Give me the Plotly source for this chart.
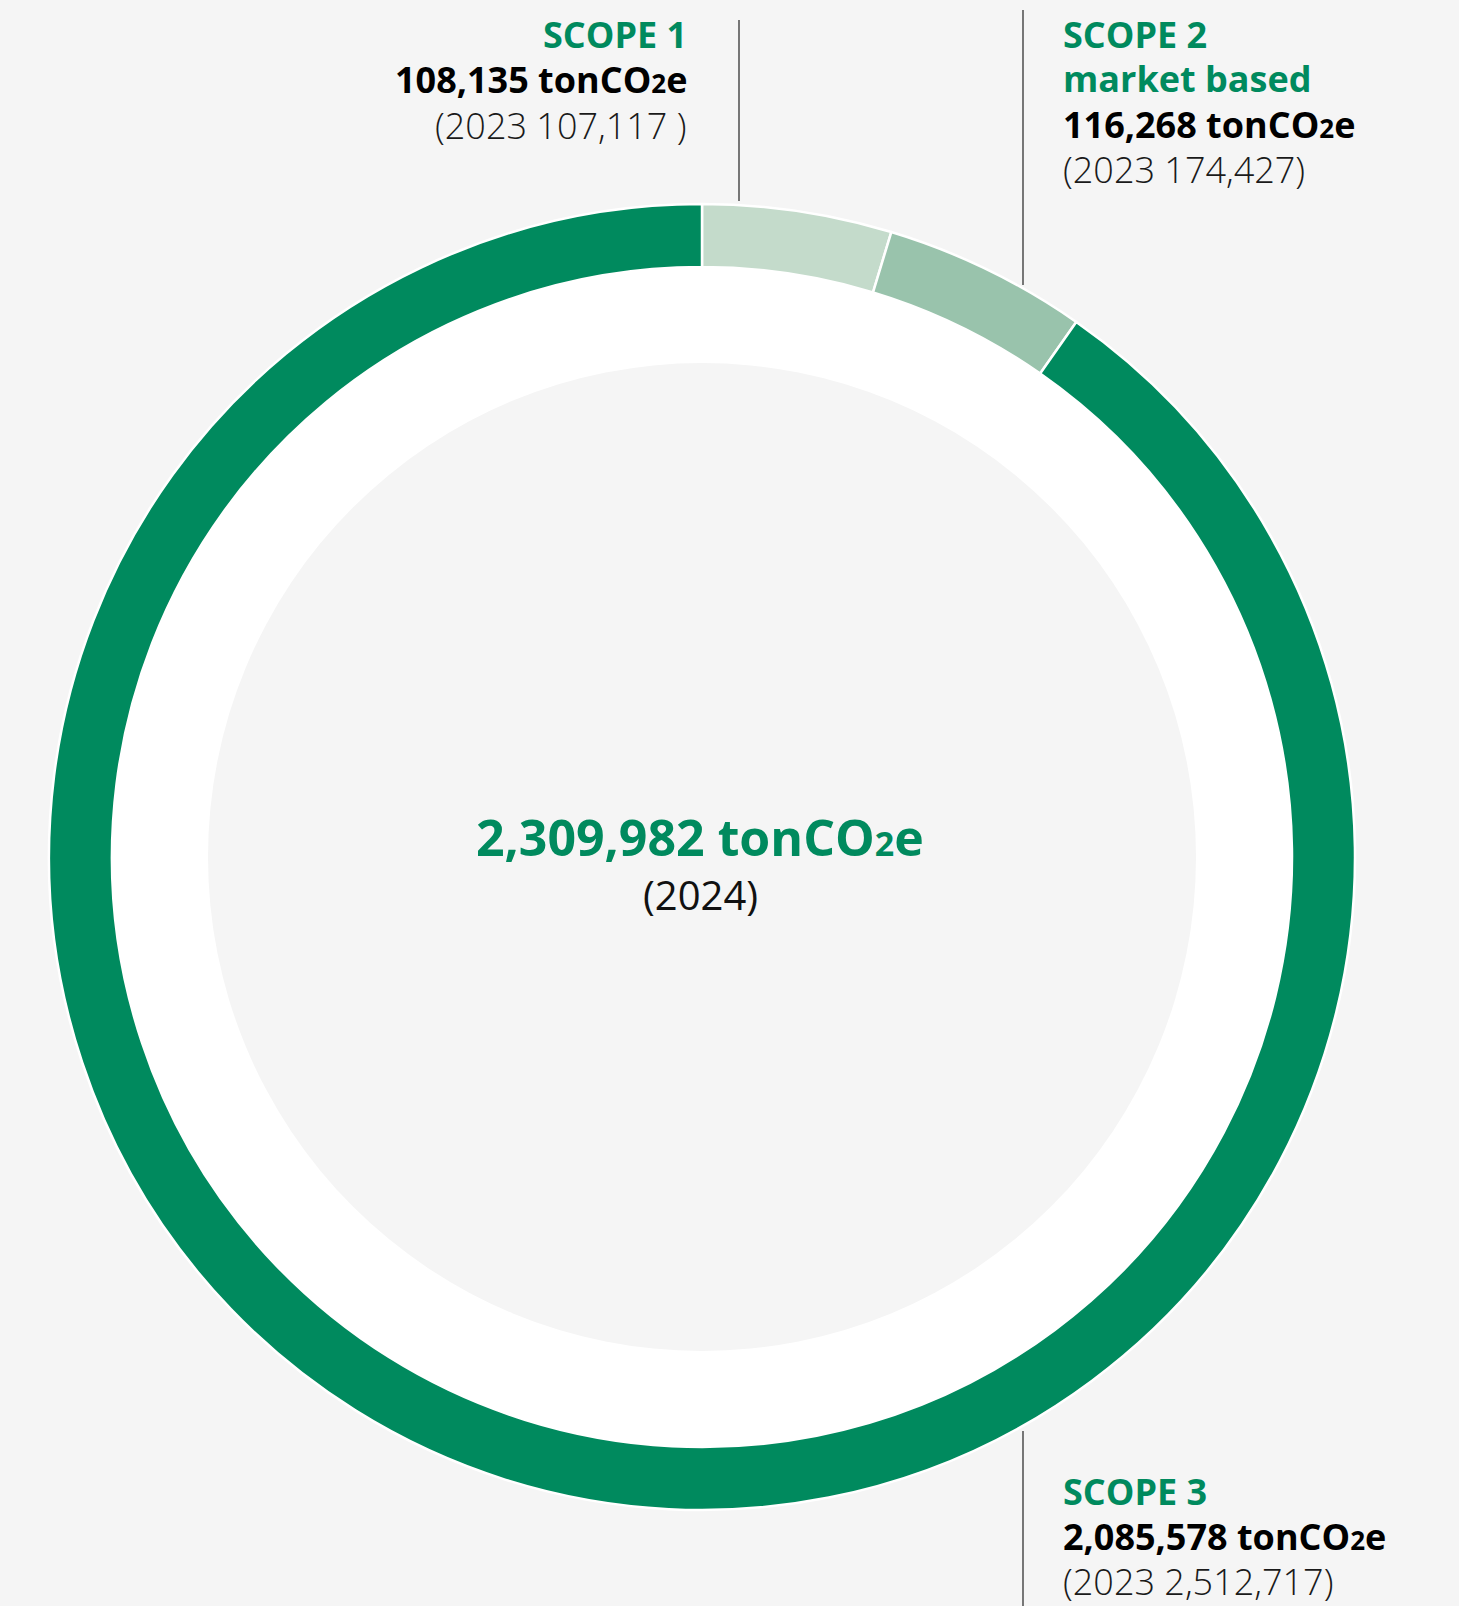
import plotly.graph_objects as go

# ---- data ----
categories = ["SCOPE 1", "SCOPE 2", "SCOPE 3"]
subtitles = ["", "market based", ""]
values_2024 = [108135, 116268, 2085578]
values_2023 = [107117, 174427, 2512717]
total_2024 = 2309982
year_current = 2024
year_prior = 2023
colors = ["#c4dbcb", "#99c3ac", "#008a5e"]

W, H = 1459, 1606
CX, CY = 702, 857          # ring centre in px (from top-left)
R_OUT, R_WHITE, R_GRAY = 653, 590, 494
GREEN = "#008a5e"
FONT = "Open Sans"

def px_x(x):
    return x / W

def px_y(y):
    return 1 - y / H

fig = go.Figure()
fig.add_trace(go.Pie(
    labels=categories,
    values=values_2024,
    sort=False,
    direction="clockwise",
    rotation=0,
    hole=R_WHITE / R_OUT,
    marker=dict(colors=colors, line=dict(color="white", width=2.5)),
    textinfo="none",
    hoverinfo="label+value",
    showlegend=False,
    domain=dict(x=[px_x(CX - R_OUT), px_x(CX + R_OUT)],
                y=[px_y(CY + R_OUT), px_y(CY - R_OUT)]),
))

shapes = []
# white annulus and grey inner disk
shapes.append(dict(type="circle", xref="paper", yref="paper", layer="below",
                   x0=px_x(CX - R_WHITE), x1=px_x(CX + R_WHITE),
                   y0=px_y(CY + R_WHITE), y1=px_y(CY - R_WHITE),
                   fillcolor="white", line=dict(width=0)))
shapes.append(dict(type="circle", xref="paper", yref="paper", layer="below",
                   x0=px_x(CX - R_GRAY), x1=px_x(CX + R_GRAY),
                   y0=px_y(CY + R_GRAY), y1=px_y(CY - R_GRAY),
                   fillcolor="#f5f5f5", line=dict(width=0)))
# leader lines
for (x, y0, y1) in [(739, 20, 201), (1023, 10, 285), (1023, 1431, 1606)]:
    shapes.append(dict(type="line", xref="paper", yref="paper",
                       x0=px_x(x), x1=px_x(x), y0=px_y(y0), y1=px_y(y1),
                       line=dict(color="#222222", width=1.2)))

unit = 'tonCO<span style="font-size:26px">2</span>e'

def ann(text, x, y, xanchor, size, color, weight):
    return dict(text=text, x=px_x(x), y=px_y(y), xref="paper", yref="paper",
                xanchor=xanchor, yanchor="middle", showarrow=False,
                font=dict(family=FONT, size=size, color=color, weight=weight))

S_B, S_L = 36, 36
annotations = []
# Scope 1 (right aligned, left of line)
annotations.append(ann(categories[0], 689, 35, "right", S_B, GREEN, 700))
annotations.append(ann(f"{values_2024[0]:,} {unit}", 689, 80, "right", S_B, "#000000", 700))
annotations.append(ann(f"({year_prior} {values_2023[0]:,} )", 689, 126, "right", S_L, "#1a1a1a", 300))
# Scope 2
annotations.append(ann(categories[1], 1061, 35, "left", S_B, GREEN, 700))
annotations.append(ann(subtitles[1], 1061, 79, "left", S_B, GREEN, 700))
annotations.append(ann(f"{values_2024[1]:,} {unit}", 1061, 125, "left", S_B, "#000000", 700))
annotations.append(ann(f"({year_prior} {values_2023[1]:,})", 1061, 170, "left", S_L, "#1a1a1a", 300))
# Scope 3
annotations.append(ann(categories[2], 1061, 1491, "left", S_B, GREEN, 700))
annotations.append(ann(f"{values_2024[2]:,} {unit}", 1061, 1536, "left", S_B, "#000000", 700))
annotations.append(ann(f"({year_prior} {values_2023[2]:,})", 1061, 1581, "left", S_L, "#1a1a1a", 300))
# centre
annotations.append(ann(f'{total_2024:,} tonCO<span style="font-size:34px">2</span>e',
                       700, 837, "center", 50, GREEN, 700))
annotations.append(ann(f"({year_current})", 700, 894, "center", 40, "#111111", 400))

fig.update_layout(
    width=W, height=H,
    margin=dict(l=0, r=0, t=0, b=0),
    paper_bgcolor="#f5f5f5",
    plot_bgcolor="#f5f5f5",
    shapes=shapes,
    annotations=annotations,
    font=dict(family=FONT),
)

fig.write_html(
    "out.html",
    config={"displayModeBar": False},
    post_script="document.body.style.margin='0';document.body.style.background='#f5f5f5';",
)
